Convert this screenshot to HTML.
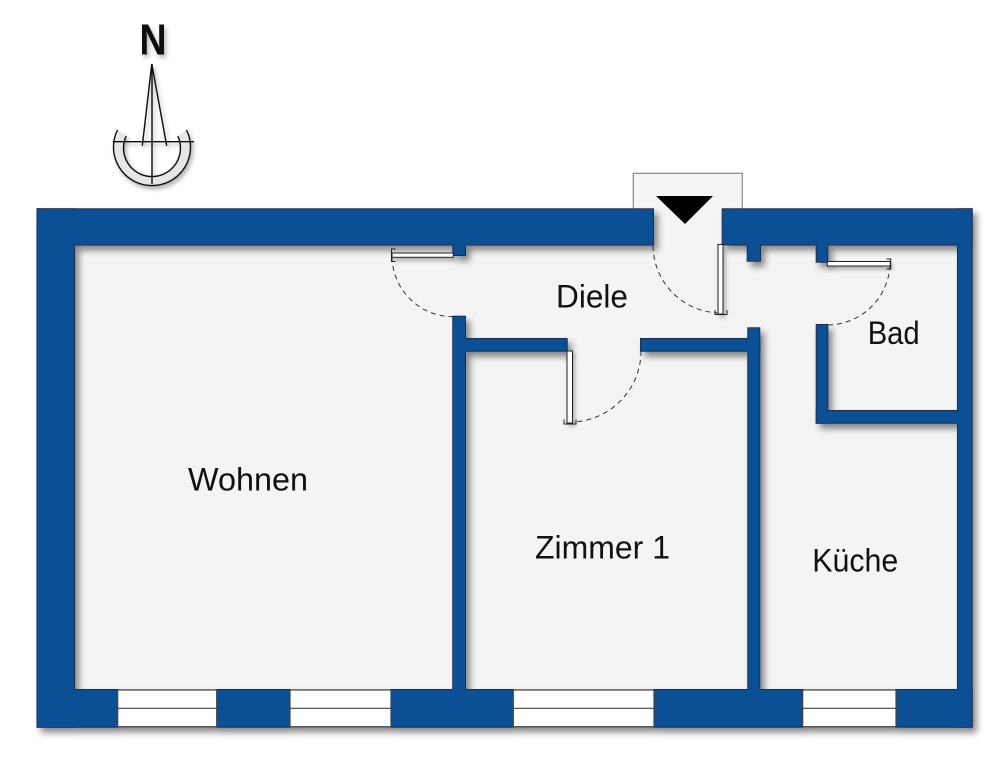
<!DOCTYPE html>
<html>
<head>
<meta charset="utf-8">
<style>
  html,body{margin:0;padding:0;background:#ffffff;}
  svg{display:block;}
  text{font-family:"Liberation Sans",Arial,sans-serif;}
</style>
</head>
<body>
<svg width="1000" height="780" viewBox="0 0 1000 780" xmlns="http://www.w3.org/2000/svg">
  <defs>
    <filter id="sh" x="-5%" y="-5%" width="115%" height="115%">
      <feDropShadow dx="4" dy="5" stdDeviation="3.5" flood-color="#000" flood-opacity="0.45"/>
    </filter>
    <filter id="sh2" x="-20%" y="-20%" width="150%" height="150%">
      <feDropShadow dx="2" dy="3" stdDeviation="2" flood-color="#000" flood-opacity="0.3"/>
    </filter>
  </defs>

  <rect x="0" y="0" width="1000" height="780" fill="#ffffff"/>

  <!-- Compass -->
  <g filter="url(#sh2)">
    <text x="153" y="54.3" font-size="44" font-weight="bold" text-anchor="middle" textLength="27" lengthAdjust="spacingAndGlyphs" fill="#111">N</text>
    <path d="M117.5,130 A38.5,38.5 0 1 0 186.5,130 L177.8,136 A28.5,28.5 0 1 1 126.2,136 Z" fill="#e6e6e6" stroke="none"/>
    <path d="M117.5,130 A38.5,38.5 0 1 0 186.5,130" fill="none" stroke="#111" stroke-width="1.4"/>
    <path d="M126.2,136 A28.5,28.5 0 1 0 177.8,136" fill="none" stroke="#111" stroke-width="1.4"/>
    <line x1="112.7" y1="141.7" x2="194" y2="141.7" stroke="#111" stroke-width="1.4"/>
    <line x1="152" y1="64" x2="152" y2="184" stroke="#111" stroke-width="1.4"/>
    <line x1="151.8" y1="64" x2="142.3" y2="145.7" stroke="#111" stroke-width="1.4"/>
    <line x1="151.8" y1="64" x2="166.7" y2="145.7" stroke="#111" stroke-width="1.4"/>
  </g>

  <!-- Entrance box -->
  <rect x="633.3" y="173.3" width="109" height="40" fill="#f5f5f5" stroke="#8a8a8a" stroke-width="1.2"/>

  <!-- Interior floor -->
  <rect x="74" y="244" width="884" height="446" fill="#f4f4f4"/>
  <rect x="653" y="209" width="70" height="36" fill="#f4f4f4"/>

  <!-- Walls with shadow + outline -->
  <g filter="url(#sh)" fill="#0b4f95" stroke="#1a2d4d" stroke-width="2">
    <rect x="37.5" y="209.3" width="615.5" height="35.2"/>
    <rect x="722.7" y="209.3" width="249" height="35.2"/>
    <rect x="37.5" y="209.3" width="36.5" height="517.4"/>
    <rect x="958" y="209.3" width="13.7" height="517.4"/>
    <rect x="37.5" y="690" width="80.2" height="36.7"/>
    <rect x="216.7" y="690" width="73.3" height="36.7"/>
    <rect x="391" y="690" width="122.3" height="36.7"/>
    <rect x="654" y="690" width="148.7" height="36.7"/>
    <rect x="896" y="690" width="75.7" height="36.7"/>
    <rect x="453.3" y="316.7" width="11.7" height="373.3"/>
    <rect x="453.3" y="244" width="11.7" height="11"/>
    <rect x="465" y="339" width="101.7" height="11.7"/>
    <rect x="641" y="339" width="118.3" height="11.7"/>
    <rect x="748.3" y="328.3" width="11" height="361.7"/>
    <rect x="747.7" y="244" width="12.3" height="16.7"/>
    <rect x="816.7" y="244" width="10.6" height="17.7"/>
    <rect x="816.7" y="325" width="10.6" height="97.7"/>
    <rect x="816.7" y="411" width="141.3" height="11.7"/>
    <!-- windows (for shadow) -->
    <rect x="117.7" y="690" width="99" height="36.7" fill="#fff" stroke="#444" stroke-width="1.2"/>
    <rect x="290" y="690" width="101" height="36.7" fill="#fff" stroke="#444" stroke-width="1.2"/>
    <rect x="513.3" y="690" width="140.7" height="36.7" fill="#fff" stroke="#444" stroke-width="1.2"/>
    <rect x="802.7" y="690" width="93.3" height="36.7" fill="#fff" stroke="#444" stroke-width="1.2"/>
  </g>
  <!-- Wall fills on top (hide internal seams) -->
  <g fill="#0b4f95" stroke="none">
    <rect x="37.5" y="209.3" width="615.5" height="35.2"/>
    <rect x="722.7" y="209.3" width="249" height="35.2"/>
    <rect x="37.5" y="209.3" width="36.5" height="517.4"/>
    <rect x="958" y="209.3" width="13.7" height="517.4"/>
    <rect x="37.5" y="690" width="80.2" height="36.7"/>
    <rect x="216.7" y="690" width="73.3" height="36.7"/>
    <rect x="391" y="690" width="122.3" height="36.7"/>
    <rect x="654" y="690" width="148.7" height="36.7"/>
    <rect x="896" y="690" width="75.7" height="36.7"/>
    <rect x="453.3" y="316.7" width="11.7" height="373.3"/>
    <rect x="453.3" y="244" width="11.7" height="11"/>
    <rect x="465" y="339" width="101.7" height="11.7"/>
    <rect x="641" y="339" width="118.3" height="11.7"/>
    <rect x="748.3" y="328.3" width="11" height="361.7"/>
    <rect x="747.7" y="244" width="12.3" height="16.7"/>
    <rect x="816.7" y="244" width="10.6" height="17.7"/>
    <rect x="816.7" y="325" width="10.6" height="97.7"/>
    <rect x="816.7" y="411" width="141.3" height="11.7"/>
  </g>
  <!-- Windows -->
  <g fill="#ffffff" stroke="#444" stroke-width="1.2">
    <rect x="117.7" y="690" width="99" height="36.7"/>
    <rect x="290" y="690" width="101" height="36.7"/>
    <rect x="513.3" y="690" width="140.7" height="36.7"/>
    <rect x="802.7" y="690" width="93.3" height="36.7"/>
    <line x1="117.7" y1="708.3" x2="216.7" y2="708.3"/>
    <line x1="290" y1="708.3" x2="391" y2="708.3"/>
    <line x1="513.3" y1="708.3" x2="654" y2="708.3"/>
    <line x1="802.7" y1="708.3" x2="896" y2="708.3"/>
  </g>

  <!-- Entrance triangle -->
  <polygon points="656,196 713,196 685,224" fill="#000"/>

  <!-- Door swings (dashed arcs) -->
  <g fill="none" stroke="#333" stroke-width="1" stroke-dasharray="5,4">
    <path d="M392,257 A61,61 0 0 0 453.3,316.7"/>
    <path d="M641,351 A71,71 0 0 1 571,422"/>
    <path d="M653,246 A68,68 0 0 0 720,313"/>
    <path d="M890,265 A63,63 0 0 1 827.3,325"/>
  </g>

  <!-- Door leaves -->
  <g filter="url(#sh2)" fill="#ffffff" stroke="#222" stroke-width="1">
    <rect x="392" y="253" width="61.3" height="4.3"/>
    <rect x="567" y="351" width="5.5" height="72"/>
    <rect x="718" y="244.5" width="5" height="69.5"/>
    <rect x="827.3" y="261.5" width="63" height="4.5"/>
  </g>
  <!-- hinge brackets -->
  <g fill="none" stroke="#222" stroke-width="1">
    <path d="M395.5,249 L391.5,249 L391.5,261.5 L395.5,261.5"/>
    <path d="M564,419.5 L564,424 L576,424 L576,419.5"/>
    <path d="M715,310 L715,314.5 L727,314.5 L727,310"/>
    <path d="M886.5,259 L890.7,259 L890.7,269 L886.5,269"/>
  </g>

  <!-- Labels -->
  <g font-size="32" fill="#111">
    <text x="188" y="490.7" textLength="120" lengthAdjust="spacingAndGlyphs">Wohnen</text>
    <text x="556" y="307.7" textLength="72" lengthAdjust="spacingAndGlyphs">Diele</text>
    <text x="535" y="558.3" textLength="135" lengthAdjust="spacingAndGlyphs">Zimmer 1</text>
    <text x="812.3" y="571.7" textLength="86" lengthAdjust="spacingAndGlyphs">Küche</text>
    <text x="867.7" y="344" textLength="52" lengthAdjust="spacingAndGlyphs">Bad</text>
  </g>
</svg>
</body>
</html>
